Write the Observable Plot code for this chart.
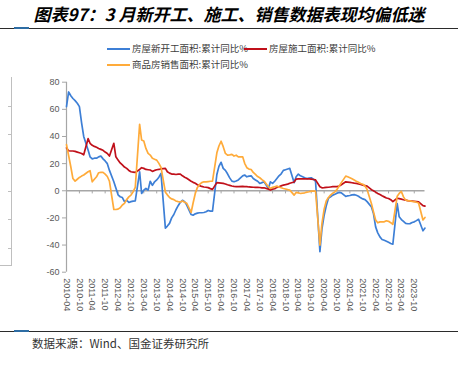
<!DOCTYPE html>
<html><head><meta charset="utf-8">
<script src="https://cdn.jsdelivr.net/npm/d3@7"></script>
<script src="https://cdn.jsdelivr.net/npm/@observablehq/plot@0.6"></script>
<style>
body{margin:0;background:#fff;}
#wrap{position:relative;width:458px;height:367px;overflow:hidden;font-family:"Noto Sans CJK SC",sans-serif;background:#fff;}
#title{position:absolute;top:2px;left:0;width:458px;text-align:center;font-style:italic;font-weight:bold;font-size:17px;line-height:24px;color:#000;}
.hr{position:absolute;left:0;width:458px;height:1.5px;background:#2b2b2b;}
.hrb{position:absolute;left:14px;width:15px;height:2px;background:#2e6da4;}
#chart{position:absolute;left:0;top:0;}
.lg{position:absolute;font-size:9.5px;color:#404040;line-height:12px;white-space:nowrap;}
.sw{position:absolute;height:2px;width:23px;}
#source{position:absolute;left:32px;top:335px;font-size:11.5px;color:#333;line-height:16px;}
.art{position:absolute;background:#bfbfbf;}
</style></head>
<body><div id="wrap">
<div id="title">图表97：3 月新开工、施工、销售数据表现均偏低迷</div>
<div class="hr" style="top:27.5px"></div><div class="hrb" style="top:27px"></div>
<div id="chart"></div>
<div class="sw" style="left:107px;top:47.5px;background:#3d7fd6"></div>
<div class="lg" style="left:132px;top:42px">房屋新开工面积:累计同比%</div>
<div class="sw" style="left:244px;top:47.5px;background:#c0101a"></div>
<div class="lg" style="left:269px;top:42px">房屋施工面积:累计同比%</div>
<div class="sw" style="left:107px;top:63.5px;background:#ffab3a"></div>
<div class="lg" style="left:132px;top:58px">商品房销售面积:累计同比%</div>
<div class="hr" style="top:330.5px"></div><div class="hrb" style="top:330px"></div>
<div id="source">数据来源：Wind、国金证券研究所</div>
<div class="art" style="left:11px;top:77px;width:1px;height:188px"></div>
<div class="art" style="left:0;top:265px;width:12px;height:1px"></div>
<div class="art" style="left:8px;top:106px;width:3px;height:1px"></div>
<div class="art" style="left:8px;top:134px;width:3px;height:1px"></div>
<div class="art" style="left:8px;top:163px;width:3px;height:1px"></div>
<div class="art" style="left:8px;top:191px;width:3px;height:1px"></div>
<div class="art" style="left:8px;top:219px;width:3px;height:1px"></div>
<div class="art" style="left:8px;top:248px;width:3px;height:1px"></div>
</div>
<script>
// Monthly cumulative data (January merged into February)
const months = [
"2010-04","2010-05","2010-06","2010-07","2010-08","2010-09","2010-10","2010-11","2010-12",
"2011-02","2011-03","2011-04","2011-05","2011-06","2011-07","2011-08","2011-09","2011-10","2011-11","2011-12",
"2012-02","2012-03","2012-04","2012-05","2012-06","2012-07","2012-08","2012-09","2012-10","2012-11","2012-12",
"2013-02","2013-03","2013-04","2013-05","2013-06","2013-07","2013-08","2013-09","2013-10","2013-11","2013-12",
"2014-02","2014-03","2014-04","2014-05","2014-06","2014-07","2014-08","2014-09","2014-10","2014-11","2014-12",
"2015-02","2015-03","2015-04","2015-05","2015-06","2015-07","2015-08","2015-09","2015-10","2015-11","2015-12",
"2016-02","2016-03","2016-04","2016-05","2016-06","2016-07","2016-08","2016-09","2016-10","2016-11","2016-12",
"2017-02","2017-03","2017-04","2017-05","2017-06","2017-07","2017-08","2017-09","2017-10","2017-11","2017-12",
"2018-02","2018-03","2018-04","2018-05","2018-06","2018-07","2018-08","2018-09","2018-10","2018-11","2018-12",
"2019-02","2019-03","2019-04","2019-05","2019-06","2019-07","2019-08","2019-09","2019-10","2019-11","2019-12",
"2020-02","2020-03","2020-04","2020-05","2020-06","2020-07","2020-08","2020-09","2020-10","2020-11","2020-12",
"2021-02","2021-03","2021-04","2021-05","2021-06","2021-07","2021-08","2021-09","2021-10","2021-11","2021-12",
"2022-02","2022-03","2022-04","2022-05","2022-06","2022-07","2022-08","2022-09","2022-10","2022-11","2022-12",
"2023-02","2023-03","2023-04","2023-05","2023-06","2023-07","2023-08","2023-09","2023-10","2023-11","2023-12",
"2024-02","2024-03"];

const newStartValues = [
62,72.8,70,68,66.4,64.5,62,50,40,
30,25,23.5,24,24,25,25.6,23.5,22,20,15,
6.6,2,-3,-4.4,-5,-8,-7,-8.6,-8,-7.6,-7.4,
14,-2,0.5,1.7,0.5,7,4,6.6,8,10,12.8,
-27.5,-26,-24,-20,-17.5,-14,-11,-8.5,-7,-8,-10.5,
-17.5,-18,-17,-16.5,-16.2,-16.2,-16,-15.5,-14.5,-15,-15,
12,18,21,16.5,15,12.5,9.5,7.1,6.6,7.2,8,
11,11.6,10.3,10.8,11,9,8,7,5.4,6,6.6,
1.7,6.6,5.4,7,9,11,12.5,15,15.5,16,16.5,
6,10.3,12.3,11,10.3,9.6,9,9.3,9.6,8.5,7,
-44.9,-28,-18,-11,-5.5,-4.5,-3.2,-2.5,-1.8,-1.2,-1.5,
-4.2,-3.7,-3.5,-3,-2.8,-3.3,-4,-5.2,-6,-6.5,-8,
-12,-16.7,-26.6,-31,-34,-35.9,-36.5,-37.2,-38,-38.8,-39.4,
-9.4,-19.2,-21.2,-22.6,-24,-24.3,-24.2,-23.4,-22.9,-22,-21,
-29.5,-27.5];

const underConstructionValues = [
31.5,29.5,29.3,29.3,29,28.5,28,27.5,26.5,
38.4,35,33.5,32.7,32,31.2,30.5,29.8,28.5,27.5,25.6,
35,25,22.6,20.5,19,17.5,16.5,15,14,13.8,13.5,
15.7,17,16.5,15.7,15.5,15.3,14.3,15,15.5,15.7,16.1,
16.5,14,13,12.3,12.2,12,12.2,12.3,11,10,9.2,
7,6.2,5.5,4.5,3.8,3.2,2.8,2.6,2.3,1.6,1,
6,5.8,5.6,5.4,5,4.4,4,3.5,3.2,3.1,3,
3.2,3.1,3,2.8,2.7,2.6,2.5,2.5,2.4,2.2,2.2,
1.2,0.5,1.2,1.5,2.5,3,3.6,4.2,4.5,4.9,5.5,
6.5,8.6,8.7,8.7,8.7,8.7,8.7,8.7,8.6,8.3,8,
3,2.2,2.3,2.5,2.6,2.8,3,3,3.1,3.5,4.5,
6.6,6.4,6.2,5.9,5.6,5.4,5,4.6,4.2,3.8,3.4,
0.8,0,-1,-2,-2.8,-3.7,-4.5,-5.3,-5.7,-6.6,-8,
-5.5,-5.8,-6.2,-6.6,-6.9,-7.2,-7.4,-7.6,-7.8,-8,-8.2,
-11,-11.3];

const salesValues = [
34,26,17.7,9,7.1,8.5,9.8,10.8,11.6,
14,14.8,6.6,8.5,10.3,13.3,13.5,13.5,12.3,10.5,7,
-13.8,-13.8,-13.5,-12.5,-10.5,-9.3,-6.5,-4.5,-3.2,-0.7,2.5,
49,37.4,36.7,31.2,27.5,26.3,23.9,23.2,22.6,20.2,17.3,
-1,-3,-5,-6,-6.5,-7.5,-8,-8.3,-7.5,-8.5,-9.2,
-16,-9,-2,2.5,4.7,6,6.6,6.6,6.8,7,7.1,
28,33,36.5,32.5,27.5,26.3,26.5,26.8,25.6,26.2,25,
25,20.2,17,16,15.7,13.5,12,10.5,9.6,8.2,7.1,
3,1.7,2.5,3,3.4,2.8,2.2,1.7,1.3,0.8,0.5,
-3.2,-1.2,-1.5,-2,-1.8,-1.5,-1,-0.7,-0.3,-0.2,-0.2,
-40,-24,-13.5,-7.5,-5,-3.2,-1.8,-0.8,1,3.5,6,
10.8,10.3,9.6,8.8,7.9,7,6.2,5.4,4.8,3.5,1,
-9.5,-15.5,-21.6,-23.6,-22.9,-22.9,-22.9,-22.1,-22.5,-23.5,-24.8,
-4,-2,-0.5,-4.5,-6.9,-7.2,-7.5,-7.8,-8,-8.5,-9,
-21.5,-19.7];

const seriesNames = ["房屋新开工面积:累计同比%","房屋施工面积:累计同比%","商品房销售面积:累计同比%"];
const seriesColors = ["#3d7fd6","#c0101a","#ffab3a"];
const xTickLabels = ["2010-04","2010-10","2011-04","2011-10","2012-04","2012-10","2013-04","2013-10",
"2014-04","2014-10","2015-04","2015-10","2016-04","2016-10","2017-04","2017-10","2018-04","2018-10",
"2019-04","2019-10","2020-04","2020-10","2021-04","2021-10","2022-04","2022-10","2023-04","2023-10"];
const yTicks = [-60,-40,-20,0,20,40,60,80];

const parse = d3.utcParse("%Y-%m");
const dates = months.map(parse);
const tickDates = xTickLabels.map(parse);
const valueLists = [newStartValues, underConstructionValues, salesValues];
const rows = [];
valueLists.forEach((vals, s) => vals.forEach((v, i) => rows.push({date: dates[i], value: v, series: seriesNames[s]})));

const xDomain = [dates[0], dates[dates.length - 1]];

const chart = Plot.plot({
  width: 458, height: 367,
  marginLeft: 66, marginRight: 33.5, marginTop: 81.7, marginBottom: 95.3,
  style: {fontFamily: "'Liberation Sans', Arial, sans-serif", fontSize: "9px", color: "#595959", background: "transparent", overflow: "visible"},
  x: {type: "utc", domain: xDomain},
  y: {domain: [-60, 80]},
  color: {domain: seriesNames, range: seriesColors},
  marks: [
    Plot.ruleX([xDomain[0]], {y1: -60, y2: 80, stroke: "#a6a6a6", strokeWidth: 1.2}),
    Plot.axisY({ticks: yTicks, tickSize: 4, tickPadding: 3, stroke: "#a6a6a6", fill: "#595959", tickFormat: d => String(d), label: null}),
    Plot.axisX({ticks: tickDates, tickFormat: d3.utcFormat("%Y-%m"), tickRotate: 90, tickSize: 0, tickPadding: 6, fill: "#595959", label: null}),
    Plot.ruleY([0], {stroke: "#a6a6a6", strokeWidth: 1.3}),
    Plot.ruleX(tickDates, {y1: 0, y2: -2.3, stroke: "#a6a6a6"}),
    Plot.lineY(rows, {x: "date", y: "value", z: "series", stroke: "series", strokeWidth: 1.7})
  ]
});
document.getElementById("chart").appendChild(chart);
</script>
</body></html>
